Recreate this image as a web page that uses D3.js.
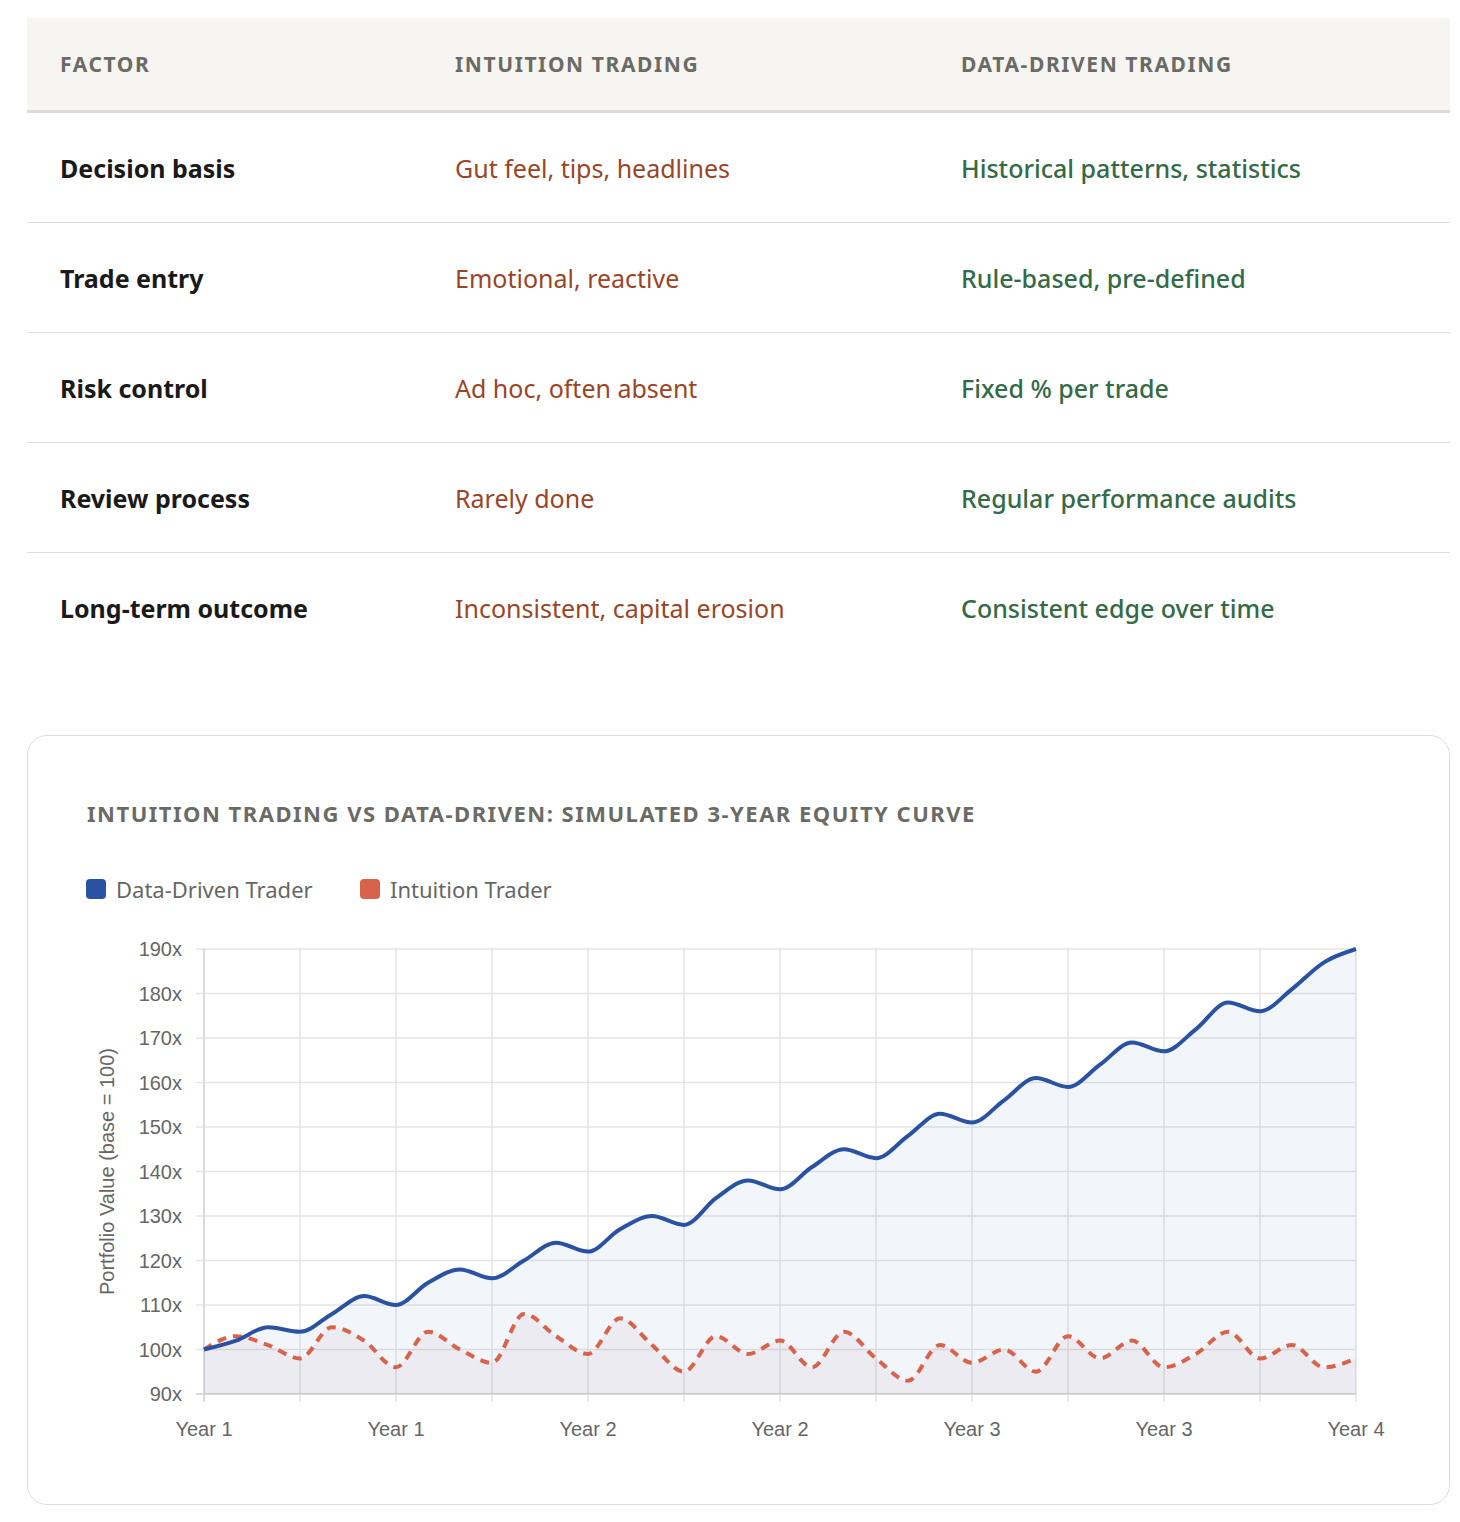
<!DOCTYPE html>
<html><head><meta charset="utf-8">
<script src="https://cdn.jsdelivr.net/npm/d3@7"></script>
<style>
body{margin:0;background:#fff;font-family:"Noto Sans","Open Sans",sans-serif;}
#wrap{position:absolute;left:27px;top:18px;width:1423px;}
table{border-collapse:collapse;width:1423px;}
th{background:#f6f5f1;height:92px;text-align:left;font-size:21px;font-weight:700;letter-spacing:1.6px;color:#6b6b66;border-bottom:3px solid #dcdbd5;padding:0 0 0 33px;}
td{height:109px;border-bottom:1.5px solid #dedede;font-size:25px;padding:0 0 0 33px;}
tr:last-child td{border-bottom:none;}
td.f{font-weight:700;color:#1a1a1a;}
td.i{color:#9b4526;}
td.d{color:#336b46;font-weight:500;}
#card{position:absolute;left:27px;top:735px;width:1421px;height:768px;border:1.5px solid #dcdcdc;border-radius:20px;}
</style></head><body>
<div id="wrap"><table id="tbl"></table></div>
<div id="card"><svg id="chart" width="1421" height="768"></svg></div>
<script>
var headers = ["FACTOR", "INTUITION TRADING", "DATA-DRIVEN TRADING"];
var factors = ["Decision basis", "Trade entry", "Risk control", "Review process", "Long-term outcome"];
var intuitionText = ["Gut feel, tips, headlines", "Emotional, reactive", "Ad hoc, often absent", "Rarely done", "Inconsistent, capital erosion"];
var dataText = ["Historical patterns, statistics", "Rule-based, pre-defined", "Fixed % per trade", "Regular performance audits", "Consistent edge over time"];

var labels = d3.range(37).map(function(i) { return "Year " + (Math.floor(i / 12) + 1); });
var dataDriven = [100,102,105,104,108,112,110,115,118,116,120,124,122,127,130,128,134,138,136,141,145,143,148,153,151,156,161,159,164,169,167,172,178,176,181,187,190];
var intuition = [100,103,101,98,105,102,96,104,100,97,108,103,99,107,101,95,103,99,102,96,104,98,93,101,97,100,95,103,98,102,96,99,104,98,101,96,98];
var yTicks = [90,100,110,120,130,140,150,160,170,180,190];

var tbl = d3.select("#tbl");
var widths = [395, 506, 522];
tbl.append("tr").selectAll("th").data(headers).enter().append("th")
  .style("width", function(d, i) { return (widths[i] - 33) + "px"; }).text(function(d) { return d; });
factors.forEach(function(f, i) {
  var tr = tbl.append("tr");
  tr.append("td").attr("class", "f").text(f);
  tr.append("td").attr("class", "i").text(intuitionText[i]);
  tr.append("td").attr("class", "d").text(dataText[i]);
});

var svg = d3.select("#chart");
var L = 176, R = 1328, T = 213, B = 658;
var x = d3.scaleLinear().domain([0, 36]).range([L, R]);
var y = d3.scaleLinear().domain([90, 190]).range([B, T]);

svg.append("text").attr("x", 59).attr("y", 86).attr("font-size", 22).attr("font-weight", 700)
  .attr("letter-spacing", 1.5).attr("fill", "#6b6b66").attr("font-family", "Noto Sans")
  .text("INTUITION TRADING VS DATA-DRIVEN: SIMULATED 3-YEAR EQUITY CURVE");

var legend = [["Data-Driven Trader", "#2a52a3"], ["Intuition Trader", "#d9634a"]];
var lx = [58, 332];
legend.forEach(function(l, i) {
  svg.append("rect").attr("x", lx[i]).attr("y", 143).attr("width", 20).attr("height", 20).attr("rx", 4).attr("fill", l[1]);
  svg.append("text").attr("x", lx[i] + 30).attr("y", 162).attr("font-size", 22).attr("fill", "#666")
    .attr("font-family", "Noto Sans").text(l[0]);
});

var g = svg.append("g").attr("font-family", "Liberation Sans, Arial, sans-serif");
g.selectAll(".hg").data(yTicks).enter().append("line")
  .attr("x1", L - 8).attr("x2", R).attr("y1", function(d) { return y(d); }).attr("y2", function(d) { return y(d); })
  .attr("stroke", "#e5e5e5").attr("stroke-width", 1.5);
g.selectAll(".vg").data(d3.range(0, 37, 3)).enter().append("line")
  .attr("x1", function(d) { return x(d); }).attr("x2", function(d) { return x(d); })
  .attr("y1", T).attr("y2", B + 8).attr("stroke", "#e5e5e5").attr("stroke-width", 1.5);
g.append("line").attr("x1", L).attr("x2", L).attr("y1", T).attr("y2", B + 8).attr("stroke", "#d4d4d4").attr("stroke-width", 1.5);
g.append("line").attr("x1", L - 8).attr("x2", R).attr("y1", B).attr("y2", B).attr("stroke", "#d4d4d4").attr("stroke-width", 1.5);

g.selectAll(".yl").data(yTicks).enter().append("text")
  .attr("x", L - 22).attr("y", function(d) { return y(d) + 7; }).attr("text-anchor", "end")
  .attr("font-size", 20).attr("fill", "#666").text(function(d) { return d + "x"; });
g.selectAll(".xl").data(d3.range(0, 37, 6)).enter().append("text")
  .attr("x", function(d) { return x(d); }).attr("y", B + 42).attr("text-anchor", "middle")
  .attr("font-size", 20).attr("fill", "#666").text(function(d) { return labels[d]; });
g.append("text").attr("transform", "translate(86," + ((T + B) / 2) + ") rotate(-90)")
  .attr("text-anchor", "middle").attr("font-size", 20).attr("fill", "#666").text("Portfolio Value (base = 100)");

var curve = d3.curveMonotoneX;
function area(vals, fill) {
  g.append("path").datum(vals).attr("fill", fill)
    .attr("d", d3.area().x(function(d, i) { return x(i); }).y0(B).y1(function(d) { return y(d); }).curve(curve));
}
area(dataDriven, "rgba(42,82,163,0.06)");
area(intuition, "rgba(160,90,100,0.06)");
function line(vals, color, dash) {
  g.append("path").datum(vals).attr("fill", "none").attr("stroke", color).attr("stroke-width", 4)
    .attr("stroke-dasharray", dash).attr("stroke-linecap", "butt")
    .attr("d", d3.line().x(function(d, i) { return x(i); }).y(function(d) { return y(d); }).curve(curve));
}
line(intuition, "#d9634a", "9,7");
line(dataDriven, "#2a52a3", null);
</script>
</body></html>
